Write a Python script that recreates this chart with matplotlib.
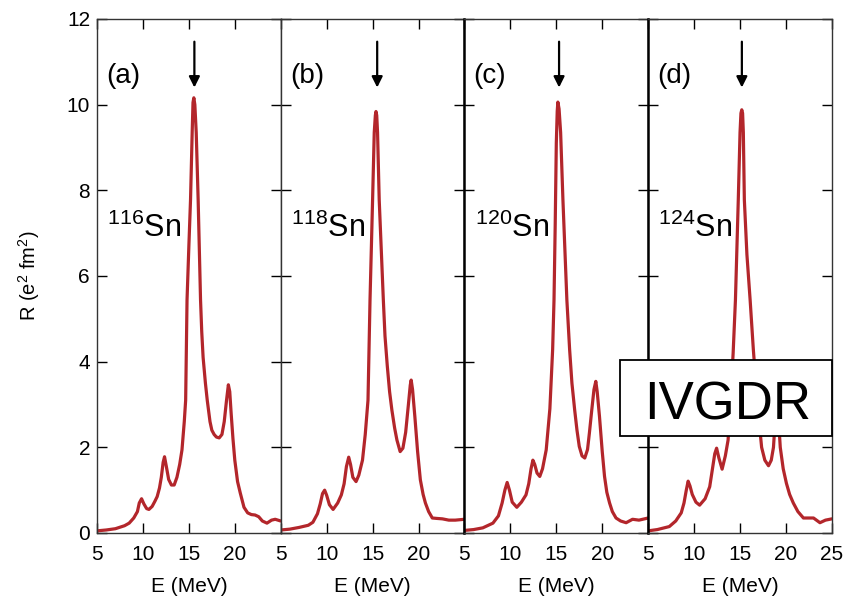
import matplotlib
matplotlib.use('Agg')
import matplotlib.pyplot as plt
from matplotlib.patches import Rectangle

plt.rcParams['font.family'] = 'Liberation Sans'
plt.rcParams['mathtext.fontset'] = 'custom'
plt.rcParams['mathtext.rm'] = 'Liberation Sans'
plt.rcParams['mathtext.default'] = 'regular'

# strength functions (E in MeV, R in e^2 fm^2)
E_116 = [5, 6, 7, 8, 8.5, 9.0, 9.4, 9.6, 9.85, 10.1, 10.4, 10.65, 11.0, 11.3, 11.55, 11.8,
         12.0, 12.2, 12.35, 12.55, 12.8, 13.1, 13.4, 13.7, 14.0, 14.25, 14.5, 14.65, 14.8,
         15.0, 15.18, 15.36, 15.45, 15.54, 15.65, 15.8, 16.01, 16.27, 16.4, 16.55, 16.8,
         17.0, 17.3, 17.5, 17.75, 18.0, 18.3, 18.6, 18.85, 19.1, 19.3, 19.45, 19.6, 19.8,
         20.0, 20.3, 20.6, 21.0, 21.4, 21.8, 22.2, 22.6, 23.0, 23.5, 24.0, 24.4, 25]
R_116 = [0.05, 0.07, 0.1, 0.17, 0.23, 0.35, 0.5, 0.7, 0.8, 0.68, 0.57, 0.55, 0.62, 0.74, 0.85, 1.05,
         1.3, 1.65, 1.78, 1.55, 1.25, 1.12, 1.12, 1.3, 1.6, 1.94, 2.6, 3.1, 5.44,
         6.7, 7.78, 9.35, 10.05, 10.16, 10.0, 9.35, 7.78, 5.44, 4.7, 4.1, 3.5,
         3.1, 2.6, 2.4, 2.3, 2.24, 2.22, 2.3, 2.6, 3.1, 3.46, 3.3, 2.8, 2.2,
         1.7, 1.2, 0.93, 0.6, 0.47, 0.43, 0.42, 0.38, 0.28, 0.23, 0.3, 0.32, 0.28]

E_118 = [5, 6, 7, 8, 8.5, 9.0, 9.3, 9.55, 9.78, 10.0, 10.3, 10.7, 11.2, 11.6, 11.9, 12.15,
         12.4, 12.6, 12.85, 13.2, 13.5, 13.9, 14.2, 14.5, 14.72, 15.0, 15.18, 15.3, 15.37,
         15.45, 15.54, 15.72, 16.17, 16.35, 16.6, 16.85, 17.1, 17.4, 17.65, 18.0, 18.3, 18.6,
         18.9, 19.1, 19.2, 19.35, 19.6, 19.9, 20.2, 20.5, 20.75, 21.1, 21.5, 22.0, 22.6, 23.3,
         24.0, 25]
R_118 = [0.07, 0.09, 0.13, 0.18, 0.25, 0.45, 0.68, 0.92, 1.0, 0.88, 0.66, 0.55, 0.7, 0.89, 1.15, 1.55,
         1.77, 1.6, 1.3, 1.2, 1.35, 1.7, 2.3, 3.1, 5.44, 7.78, 9.35, 9.75, 9.84,
         9.75, 9.35, 7.78, 5.44, 4.6, 3.9, 3.3, 2.87, 2.45, 2.17, 1.9, 1.98, 2.35,
         3.0, 3.45, 3.57, 3.35, 2.72, 1.9, 1.24, 0.9, 0.7, 0.5, 0.35, 0.34, 0.33, 0.3,
         0.3, 0.32]

E_120 = [5, 6, 7, 8.1, 8.7, 9.1, 9.4, 9.65, 9.9, 10.2, 10.7, 11.2, 11.7, 12.0, 12.25, 12.45,
         12.65, 12.9, 13.2, 13.5, 13.9, 14.3, 14.6, 14.75, 14.88, 15.0, 15.1, 15.17, 15.3,
         15.47, 15.72, 16.15, 16.45, 16.7, 17.0, 17.25, 17.5, 17.8, 18.1, 18.4, 18.6, 18.85,
         19.1, 19.3, 19.45, 19.7, 20.0, 20.25, 20.5, 20.8, 21.1, 21.5, 22.0, 22.6, 23.3,
         24.0, 25]
R_120 = [0.06, 0.08, 0.12, 0.23, 0.4, 0.7, 1.0, 1.18, 1.0, 0.72, 0.6, 0.72, 0.89, 1.15, 1.5, 1.7,
         1.6, 1.4, 1.32, 1.5, 1.94, 2.9, 4.28, 5.44, 7.2, 9.1, 9.85, 10.06, 9.9,
         9.35, 7.78, 5.44, 4.28, 3.5, 2.87, 2.4, 2.02, 1.8, 1.75, 1.95, 2.33, 2.85,
         3.35, 3.54, 3.3, 2.72, 1.9, 1.32, 0.95, 0.7, 0.5, 0.35, 0.28, 0.24, 0.32,
         0.3, 0.35]

E_124 = [5, 6, 7.3, 8.0, 8.6, 8.9, 9.15, 9.35, 9.55, 9.8, 10.2, 10.6, 11.2, 11.7, 12.0, 12.25,
         12.45, 12.7, 13.05, 13.4, 13.7, 14.0, 14.25, 14.5, 14.81, 15.0, 15.1, 15.19, 15.28,
         15.36, 15.47, 15.75, 16.1, 16.45, 16.9, 17.35, 17.7, 18.1, 18.4, 18.64, 18.85, 19.0,
         19.15, 19.38, 19.7, 20.05, 20.4, 20.8, 21.3, 21.9, 23.0, 23.7, 24.3, 25]
R_124 = [0.05, 0.08, 0.15, 0.28, 0.47, 0.7, 1.0, 1.21, 1.1, 0.9, 0.72, 0.65, 0.8, 1.08, 1.5, 1.85,
         1.98, 1.75, 1.49, 1.8, 2.17, 3.2, 4.2, 5.44, 7.78, 9.35, 9.8, 9.88, 9.8,
         9.35, 7.78, 6.5, 5.44, 4.28, 3.0, 2.0, 1.7, 1.57, 1.7, 2.0, 2.7, 3.1,
         2.8, 2.0, 1.5, 1.16, 0.9, 0.7, 0.5, 0.35, 0.35, 0.24, 0.3, 0.33]

energies = [E_116, E_118, E_120, E_124]
strengths = [R_116, R_118, R_120, R_124]
panel_tags = ['(a)', '(b)', '(c)', '(d)']
mass_numbers = ['116', '118', '120', '124']
arrow_E = [15.6, 15.5, 15.3, 15.2]

fig, axes = plt.subplots(1, 4, figsize=(8.48, 5.99), dpi=100, sharey=True)
fig.subplots_adjust(left=0.1144, right=0.981, bottom=0.1102, top=0.9683, wspace=0)

for i, ax in enumerate(axes):
    ax.plot(energies[i], strengths[i], color='#b3262b', lw=2.3,
            solid_joinstyle='round', solid_capstyle='round')
    ax.set_xlim(5, 25)
    ax.set_ylim(0, 12)
    if i < 3:
        ax.set_xticks([5, 10, 15, 20])
    else:
        ax.set_xticks([5, 10, 15, 20, 25])
    ax.set_yticks(range(0, 13, 2))
    ax.tick_params(direction='in', top=True, right=True, length=7, width=1, labelsize=15)
    ax.tick_params(axis='x', pad=9)
    ax.tick_params(axis='y', pad=5)
    ax.set_xlabel('E (MeV)', fontsize=15, labelpad=9)
    for s in ax.spines.values():
        s.set_color('#333333')
        s.set_linewidth(1)
    if i >= 2:
        ax.spines['left'].set_color('black')
        ax.spines['left'].set_linewidth(1.8)

    ax.text(6.0, 10.68, panel_tags[i], fontsize=20, ha='left', va='center')
    ax.text(6.1, 6.9, '$^{' + mass_numbers[i] + '}$Sn', fontsize=22, ha='left', va='baseline')
    ax.annotate('', xy=(arrow_E[i], 10.4), xytext=(arrow_E[i], 11.47),
                arrowprops=dict(arrowstyle='-|>', color='black', lw=1.6, mutation_scale=16,
                                shrinkA=0, shrinkB=0))

axes[0].set_ylabel('R (e$^2$ fm$^2$)', fontsize=14.5, labelpad=18)

box = Rectangle((620 / 848, 1 - 436 / 599), 212 / 848, 76 / 599, transform=fig.transFigure,
                facecolor='white', edgecolor='black', lw=1.3, zorder=5)
fig.add_artist(box)
fig.text(727.5 / 848, 1 - 419.3 / 599, 'IVGDR', fontsize=38, ha='center', va='baseline', zorder=6)

fig.savefig('out.png', dpi=100)
